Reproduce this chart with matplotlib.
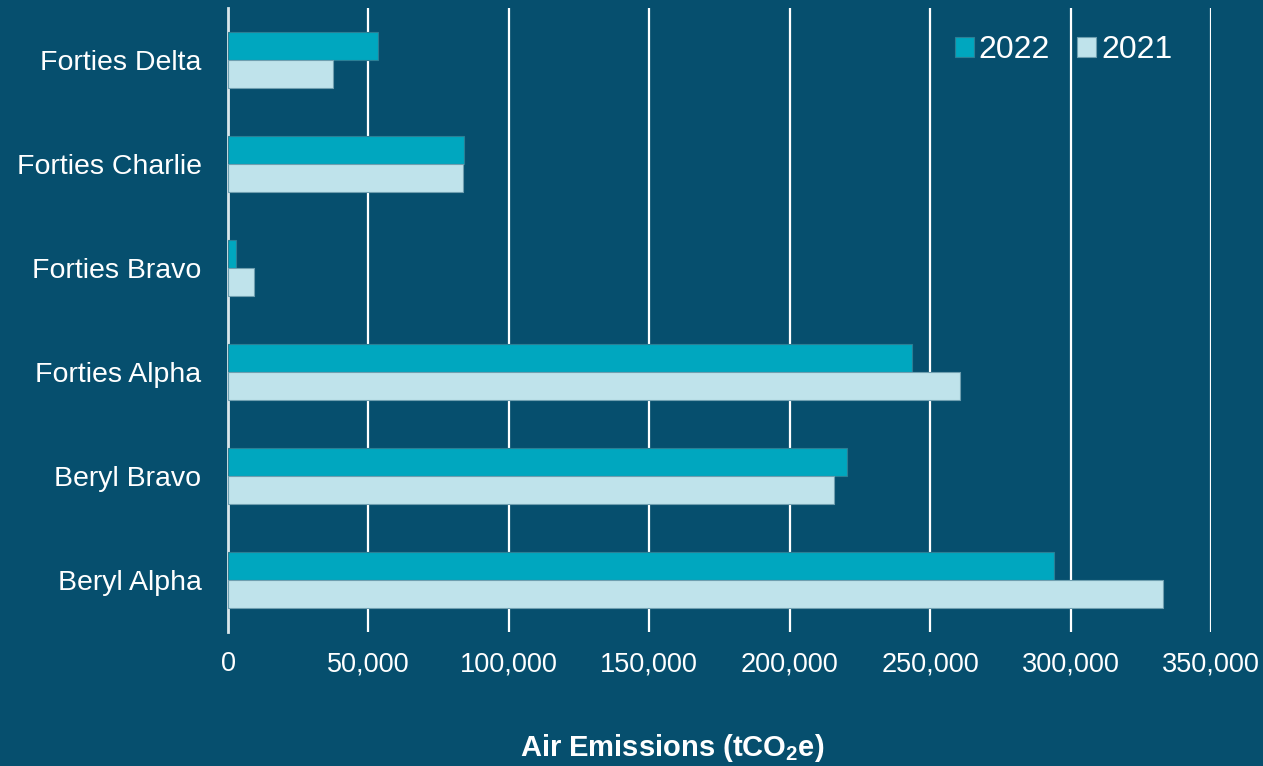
import numpy as np
from matplotlib import pyplot as plt
from matplotlib.ticker import FuncFormatter

# Data
platforms = ['Beryl Alpha', 'Beryl Bravo', 'Forties Alpha', 'Forties Bravo',
             'Forties Charlie', 'Forties Delta']
emis_2022 = [294000, 220500, 243500, 2800, 84000, 53300]
emis_2021 = [333000, 215800, 260700, 9300, 83500, 37400]

bg = '#064f6e'
c2022 = '#00a7bf'
c2021 = '#bfe3eb'

plt.rcParams['font.family'] = ['Liberation Sans', 'DejaVu Sans']

fig = plt.figure(figsize=(12.63, 7.66), dpi=100, facecolor=bg)
ax = fig.add_axes([228 / 1263, 1 - 632 / 766, 983 / 1263, 624 / 766])
ax.set_facecolor(bg)

y = np.arange(len(platforms))
h = 0.265
ax.barh(y + h / 2, emis_2022, height=h, color=c2022, edgecolor='#2b7f95',
        linewidth=0.8, label='2022', zorder=3)
ax.barh(y - h / 2, emis_2021, height=h, color=c2021, edgecolor='#6f9fb0',
        linewidth=0.8, label='2021', zorder=3)

ax.set_xlim(0, 350000)
ax.set_ylim(-0.5, len(platforms) - 0.5)
ax.set_xticks(np.arange(0, 350001, 50000))
ax.xaxis.set_major_formatter(FuncFormatter(lambda v, p: '{:,.0f}'.format(v)))
ax.set_yticks(y)
ax.set_yticklabels(platforms)

ax.grid(axis='x', color='white', linewidth=1.6, zorder=0)
ax.grid(axis='y', visible=False)
for s in ['top', 'right', 'bottom']:
    ax.spines[s].set_visible(False)
ax.spines['left'].set_color('#d9e6ea')
ax.spines['left'].set_linewidth(2)
ax.tick_params(axis='both', length=0, colors='white')
ax.tick_params(axis='y', pad=19, labelsize=20.5)
ax.tick_params(axis='x', pad=14, labelsize=19.5)

# axis title sits a bit left of the axes centre in the reference
fig.text(672 / 1263, 1 - 748 / 766, 'Air Emissions (tCO$_\\mathregular{2}$e)',
         color='white', fontsize=21, fontweight='bold', ha='center', va='center')

leg = ax.legend(loc='center right', bbox_to_anchor=(0.977, 1 - 42 / 624), ncol=2,
                frameon=False, fontsize=23, handlelength=0.6, handleheight=0.6,
                handletextpad=0.15, columnspacing=0.85, labelcolor='white',
                borderpad=0)

fig.savefig('out.png', dpi=100, facecolor=bg)
